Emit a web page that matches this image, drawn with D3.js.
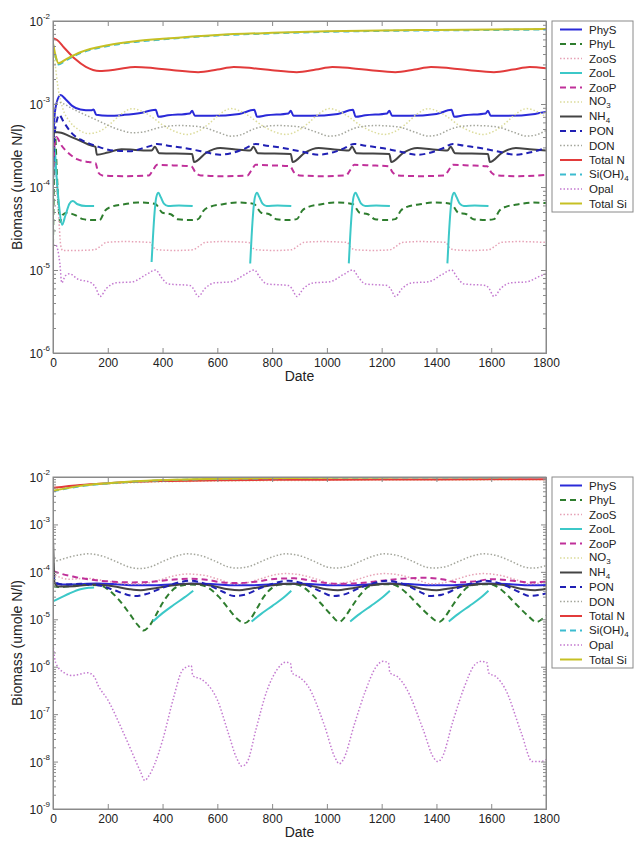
<!DOCTYPE html>
<html>
<head>
<meta charset="utf-8">
<script src="https://cdn.jsdelivr.net/npm/d3@7"></script>
<style>
  body { margin: 0; background: #fff; }
  text { font-family: Arial, "Liberation Sans", sans-serif; fill: #222; }
</style>
</head>
<body>
<div id="chart"></div>
<script>
// ---- data: [day, umole N/l], null = gap ----
var xTicks = [0, 200, 400, 600, 800, 1000, 1200, 1400, 1600, 1800];
var topExponents = [-6, -5, -4, -3, -2];
var botExponents = [-9, -8, -7, -6, -5, -4, -3, -2];

var legendMain = ["PhyS", "PhyL", "ZooS", "ZooL", "ZooP", "NO", "NH", "PON", "DON", "Total N", "Si(OH)", "Opal", "Total Si"];
var legendSub  = ["", "", "", "", "", "3", "4", "", "", "", "4", "", ""];

// top panel
var topPhyS = [[0,1.5e-4],[4,6e-4],[12,1.0e-3],[28,1.28e-3],[45,1.15e-3],[70,9.5e-4],[100,8.6e-4],[140,8.4e-4],[148,8.6e-4],[158,7.4e-4],[200,7.2e-4],[260,7.4e-4],[320,7.8e-4],[375,8.5e-4],[385,7.0e-4],[420,7.3e-4],[500,7.7e-4],[508,8.3e-4],[518,7.2e-4],[580,7.2e-4],[680,7.6e-4],[735,8.5e-4],[745,7.0e-4],[780,7.3e-4],[860,7.7e-4],[868,8.3e-4],[878,7.2e-4],[940,7.2e-4],[1040,7.6e-4],[1095,8.5e-4],[1105,7.0e-4],[1140,7.3e-4],[1220,7.7e-4],[1228,8.3e-4],[1238,7.2e-4],[1300,7.2e-4],[1400,7.6e-4],[1455,8.5e-4],[1465,7.0e-4],[1500,7.3e-4],[1580,7.7e-4],[1588,8.3e-4],[1598,7.2e-4],[1660,7.2e-4],[1760,7.6e-4],[1800,8.0e-4]];
var topPhyL = [[0,2e-5],[4,1.5e-4],[8,4e-4],[14,1.5e-4],[20,6e-5],[26,3.8e-5],[35,4.6e-5],[50,4.9e-5],[80,4.6e-5],[110,4.1e-5],[140,4.0e-5],[170,4.0e-5],[190,5.2e-5],[215,5.8e-5],[260,6.2e-5],[310,6.5e-5],[355,6.4e-5],[375,6.2e-5],[400,4.9e-5],[430,4.7e-5],[455,4.1e-5],[500,4.0e-5],[530,4.1e-5],[550,5.2e-5],[575,5.8e-5],[620,6.2e-5],[670,6.5e-5],[715,6.4e-5],[735,6.2e-5],[760,4.9e-5],[790,4.7e-5],[815,4.1e-5],[860,4.0e-5],[890,4.1e-5],[910,5.2e-5],[935,5.8e-5],[980,6.2e-5],[1030,6.5e-5],[1075,6.4e-5],[1095,6.2e-5],[1120,4.9e-5],[1150,4.7e-5],[1175,4.1e-5],[1220,4.0e-5],[1250,4.1e-5],[1270,5.2e-5],[1295,5.8e-5],[1340,6.2e-5],[1390,6.5e-5],[1435,6.4e-5],[1455,6.2e-5],[1480,4.9e-5],[1510,4.7e-5],[1535,4.1e-5],[1580,4.0e-5],[1610,4.1e-5],[1630,5.2e-5],[1655,5.8e-5],[1700,6.2e-5],[1750,6.5e-5],[1800,6.4e-5]];
var topZooS = [[0,4e-4],[10,1.5e-4],[20,5e-5],[28,2e-5],[35,1.72e-5],[80,1.72e-5],[150,1.75e-5],[175,1.95e-5],[195,2.15e-5],[260,2.2e-5],[355,2.15e-5],[365,1.9e-5],[385,1.75e-5],[450,1.72e-5],[510,1.75e-5],[535,1.95e-5],[555,2.15e-5],[620,2.2e-5],[715,2.15e-5],[725,1.9e-5],[745,1.75e-5],[810,1.72e-5],[870,1.75e-5],[895,1.95e-5],[915,2.15e-5],[980,2.2e-5],[1075,2.15e-5],[1085,1.9e-5],[1105,1.75e-5],[1170,1.72e-5],[1230,1.75e-5],[1255,1.95e-5],[1275,2.15e-5],[1340,2.2e-5],[1435,2.15e-5],[1445,1.9e-5],[1465,1.75e-5],[1530,1.72e-5],[1590,1.75e-5],[1615,1.95e-5],[1635,2.15e-5],[1700,2.2e-5],[1800,2.15e-5]];
var topZooL = [[0,1e-4],[6,3e-4],[12,1.5e-4],[22,6e-5],[33,3.5e-5],[45,4.5e-5],[60,6.3e-5],[72,6.8e-5],[90,6.2e-5],[120,5.9e-5],[150,5.9e-5],[151,null],
  [360,1.25e-5],[365,2.5e-5],[371,5e-5],[377,7.5e-5],[385,8.5e-5],[393,7.6e-5],[405,6.3e-5],[420,5.9e-5],[460,6e-5],[510,5.9e-5],[511,null],
  [720,1.2e-5],[725,2.5e-5],[731,5e-5],[737,7.5e-5],[745,8.5e-5],[753,7.6e-5],[765,6.3e-5],[780,5.9e-5],[820,6e-5],[870,5.9e-5],[871,null],
  [1080,1.2e-5],[1085,2.5e-5],[1091,5e-5],[1097,7.5e-5],[1105,8.5e-5],[1113,7.6e-5],[1125,6.3e-5],[1140,5.9e-5],[1180,6e-5],[1230,5.9e-5],[1231,null],
  [1440,1.2e-5],[1445,2.5e-5],[1451,5e-5],[1457,7.5e-5],[1465,8.5e-5],[1473,7.6e-5],[1485,6.3e-5],[1500,5.9e-5],[1540,6e-5],[1590,5.9e-5]];
var topZooP = [[0,1e-4],[5,3e-4],[12,4e-4],[30,3.2e-4],[60,2.5e-4],[90,2.15e-4],[130,2.0e-4],[155,1.95e-4],[165,1.5e-4],[180,1.38e-4],[260,1.35e-4],[350,1.38e-4],[365,1.6e-4],[380,1.85e-4],[440,1.82e-4],[505,1.78e-4],[520,1.5e-4],[540,1.38e-4],[620,1.35e-4],[710,1.38e-4],[725,1.6e-4],[740,1.85e-4],[800,1.82e-4],[865,1.78e-4],[880,1.5e-4],[900,1.38e-4],[980,1.35e-4],[1070,1.38e-4],[1085,1.6e-4],[1100,1.85e-4],[1160,1.82e-4],[1225,1.78e-4],[1240,1.5e-4],[1260,1.38e-4],[1340,1.35e-4],[1430,1.38e-4],[1445,1.6e-4],[1460,1.85e-4],[1520,1.82e-4],[1585,1.78e-4],[1600,1.5e-4],[1620,1.38e-4],[1700,1.35e-4],[1800,1.4e-4]];
var topNO3 = [[0,5e-3],[8,3e-3],[18,1.6e-3],[35,9e-4],[60,6.2e-4],[90,5e-4],[130,4.4e-4],[170,4.7e-4],[210,5.8e-4],[250,7.6e-4],[290,8.8e-4],[320,8.3e-4],[360,7e-4],[400,5.6e-4],[450,4.6e-4],[490,4.3e-4],[530,4.7e-4],[570,5.8e-4],[610,7.6e-4],[650,8.8e-4],[680,8.3e-4],[720,7e-4],[760,5.6e-4],[810,4.6e-4],[850,4.3e-4],[890,4.7e-4],[930,5.8e-4],[970,7.6e-4],[1010,8.8e-4],[1040,8.3e-4],[1080,7e-4],[1120,5.6e-4],[1170,4.6e-4],[1210,4.3e-4],[1250,4.7e-4],[1290,5.8e-4],[1330,7.6e-4],[1370,8.8e-4],[1400,8.3e-4],[1440,7e-4],[1480,5.6e-4],[1530,4.6e-4],[1570,4.3e-4],[1610,4.7e-4],[1650,5.8e-4],[1690,7.6e-4],[1730,8.8e-4],[1760,8.3e-4],[1800,7e-4]];
var topNH4 = [[0,3e-4],[4,4.6e-4],[30,4.5e-4],[60,4.1e-4],[100,3.6e-4],[140,3.15e-4],[155,3.05e-4],[160,2.45e-4],[200,2.6e-4],[250,2.85e-4],[300,2.8e-4],[360,2.75e-4],[372,3.05e-4],[388,2.55e-4],[508,2.5e-4],[515,2.0e-4],[560,2.6e-4],[610,2.95e-4],[660,2.85e-4],[720,2.75e-4],[732,3.05e-4],[748,2.55e-4],[868,2.5e-4],[875,2e-4],[920,2.6e-4],[970,2.95e-4],[1020,2.85e-4],[1080,2.75e-4],[1092,3.05e-4],[1108,2.55e-4],[1228,2.5e-4],[1235,2e-4],[1280,2.6e-4],[1330,2.95e-4],[1380,2.85e-4],[1440,2.75e-4],[1452,3.05e-4],[1468,2.55e-4],[1588,2.5e-4],[1595,2e-4],[1640,2.6e-4],[1690,2.95e-4],[1740,2.85e-4],[1800,2.75e-4]];
var topPON = [[0,1.5e-4],[5,4e-4],[15,6.5e-4],[22,7.4e-4],[40,6e-4],[70,4.4e-4],[110,3.6e-4],[160,3.1e-4],[220,2.75e-4],[280,2.7e-4],[330,2.95e-4],[360,3.15e-4],[380,3.3e-4],[420,3.15e-4],[480,2.95e-4],[540,2.7e-4],[610,2.45e-4],[660,2.6e-4],[700,2.9e-4],[740,3.3e-4],[780,3.15e-4],[840,2.95e-4],[900,2.7e-4],[970,2.45e-4],[1020,2.6e-4],[1060,2.9e-4],[1100,3.3e-4],[1140,3.15e-4],[1200,2.95e-4],[1260,2.7e-4],[1330,2.45e-4],[1380,2.6e-4],[1420,2.9e-4],[1460,3.3e-4],[1500,3.15e-4],[1560,2.95e-4],[1620,2.7e-4],[1690,2.45e-4],[1740,2.6e-4],[1800,2.95e-4]];
var topDON = [[0,8e-4],[5,1e-3],[20,1.05e-3],[40,1e-3],[70,8.8e-4],[110,7.6e-4],[160,6.4e-4],[220,5.2e-4],[260,4.7e-4],[290,4.5e-4],[330,4.6e-4],[360,4.9e-4],[400,5.3e-4],[460,5.5e-4],[540,5.3e-4],[600,4.6e-4],[650,4.1e-4],[690,4.3e-4],[720,4.8e-4],[760,5.3e-4],[820,5.5e-4],[900,5.3e-4],[960,4.6e-4],[1010,4.1e-4],[1050,4.3e-4],[1080,4.8e-4],[1120,5.3e-4],[1180,5.5e-4],[1260,5.3e-4],[1320,4.6e-4],[1370,4.1e-4],[1410,4.3e-4],[1440,4.8e-4],[1480,5.3e-4],[1540,5.5e-4],[1620,5.3e-4],[1680,4.6e-4],[1730,4.1e-4],[1770,4.3e-4],[1800,4.8e-4]];
var topTotalN = [[0,6.2e-3],[15,5.9e-3],[40,4.8e-3],[80,3.5e-3],[120,2.8e-3],[170,2.5e-3],[230,2.6e-3],[300,2.8e-3],[370,2.7e-3],[440,2.55e-3],[530,2.42e-3],[600,2.6e-3],[660,2.8e-3],[730,2.7e-3],[800,2.55e-3],[890,2.42e-3],[960,2.6e-3],[1020,2.8e-3],[1090,2.7e-3],[1160,2.55e-3],[1250,2.42e-3],[1320,2.6e-3],[1380,2.8e-3],[1450,2.7e-3],[1520,2.55e-3],[1610,2.42e-3],[1680,2.6e-3],[1740,2.8e-3],[1800,2.7e-3]];
var topSiOH4 = [[0,5.2e-3],[8,3.9e-3],[20,3e-3],[50,3.4e-3],[100,4.1e-3],[200,5e-3],[300,5.6e-3],[400,6e-3],[600,6.7e-3],[800,7.1e-3],[1000,7.4e-3],[1200,7.6e-3],[1400,7.7e-3],[1600,7.8e-3],[1800,7.9e-3]];
var topOpal = [[0,2e-5],[10,2e-5],[25,1.2e-5],[32,7e-6],[45,8.5e-6],[60,9e-6],[90,7.8e-6],[140,7e-6],[155,6.2e-6],[172,4.8e-6],[195,6e-6],[230,7e-6],[290,7.2e-6],[340,8.8e-6],[375,1.0e-5],[395,8.2e-6],[420,6.8e-6],[500,6.5e-6],[512,6e-6],[530,4.8e-6],[555,6e-6],[590,7e-6],[650,7.2e-6],[700,8.8e-6],[735,1.0e-5],[755,8.2e-6],[780,6.8e-6],[860,6.5e-6],[872,6e-6],[890,4.8e-6],[915,6e-6],[950,7e-6],[1010,7.2e-6],[1060,8.8e-6],[1095,1.0e-5],[1115,8.2e-6],[1140,6.8e-6],[1220,6.5e-6],[1232,6e-6],[1250,4.8e-6],[1275,6e-6],[1310,7e-6],[1370,7.2e-6],[1420,8.8e-6],[1455,1.0e-5],[1475,8.2e-6],[1500,6.8e-6],[1580,6.5e-6],[1592,6e-6],[1610,4.8e-6],[1635,6e-6],[1670,7e-6],[1730,7.2e-6],[1780,8.5e-6],[1800,9e-6]];
var topTotalSi = [[0,5.4e-3],[8,4e-3],[20,3.1e-3],[50,3.5e-3],[100,4.2e-3],[200,5.1e-3],[300,5.7e-3],[400,6.1e-3],[600,6.8e-3],[800,7.2e-3],[1000,7.5e-3],[1200,7.7e-3],[1400,7.8e-3],[1600,7.9e-3],[1800,8e-3]];

// bottom panel
var botPhyS = [[0,1e-4],[4,6e-5],[30,5.4e-5],[100,5.5e-5],[160,5.7e-5],[230,5.5e-5],[300,5.2e-5],[360,5.2e-5],[440,5.5e-5],[520,5.7e-5],[590,5.5e-5],[660,5.2e-5],[720,5.2e-5],[800,5.5e-5],[880,5.7e-5],[950,5.5e-5],[1020,5.2e-5],[1080,5.2e-5],[1160,5.5e-5],[1240,5.7e-5],[1310,5.5e-5],[1380,5.2e-5],[1440,5.2e-5],[1520,5.5e-5],[1600,5.7e-5],[1670,5.5e-5],[1740,5.2e-5],[1800,5.3e-5]];
var botPhyL = [[0,5e-5],[20,4.8e-5],[60,5e-5],[120,5.3e-5],[170,5.2e-5],[200,4.3e-5],[240,2.6e-5],[280,1.3e-5],[310,7.5e-6],[330,5.8e-6],[350,7e-6],[375,1.2e-5],[400,2.2e-5],[430,3.8e-5],[460,5e-5],[500,5.4e-5],[540,5.3e-5],[570,4.5e-5],[605,3e-5],[640,1.7e-5],[670,1.05e-5],[700,8.3e-6],[720,1e-5],[745,1.7e-5],[770,3e-5],[800,4.6e-5],[830,5.4e-5],[880,5.5e-5],[905,5.1e-5],[940,3.6e-5],[980,2.1e-5],[1015,1.25e-5],[1045,8.8e-6],[1065,1.1e-5],[1090,1.8e-5],[1120,3.2e-5],[1150,4.8e-5],[1180,5.4e-5],[1230,5.5e-5],[1255,5.1e-5],[1290,3.6e-5],[1330,2.1e-5],[1370,1.25e-5],[1410,8.8e-6],[1430,1.1e-5],[1455,1.8e-5],[1485,3.2e-5],[1515,4.8e-5],[1545,5.4e-5],[1590,5.5e-5],[1615,5.1e-5],[1650,3.6e-5],[1690,2.1e-5],[1730,1.25e-5],[1766,8.8e-6],[1785,1e-5],[1800,1.2e-5]];
var botZooS = [[0,1.2e-4],[10,8.5e-5],[60,7e-5],[120,7.3e-5],[200,6.3e-5],[270,5.6e-5],[320,5.6e-5],[380,6.5e-5],[440,8.2e-5],[490,9e-5],[550,8.5e-5],[610,6.8e-5],[660,5.6e-5],[700,5.8e-5],[760,7.2e-5],[810,8.7e-5],[850,9.2e-5],[910,8.5e-5],[970,6.8e-5],[1020,5.6e-5],[1060,5.8e-5],[1120,7.2e-5],[1170,8.7e-5],[1210,9.2e-5],[1270,8.5e-5],[1330,6.8e-5],[1380,5.6e-5],[1420,5.8e-5],[1480,7.2e-5],[1530,8.7e-5],[1570,9.2e-5],[1630,8.5e-5],[1690,6.8e-5],[1740,5.6e-5],[1800,6e-5]];
var botZooL = [[0,2.4e-5],[30,2.9e-5],[60,3.5e-5],[100,4.3e-5],[130,4.6e-5],[150,4.7e-5],[151,null],
  [365,9e-6],[400,1.35e-5],[440,2e-5],[480,2.9e-5],[512,4e-5],[513,null],
  [725,9e-6],[760,1.3e-5],[800,1.9e-5],[840,2.8e-5],[870,4e-5],[871,null],
  [1085,9e-6],[1120,1.3e-5],[1160,1.9e-5],[1200,2.8e-5],[1230,4e-5],[1231,null],
  [1445,9e-6],[1480,1.3e-5],[1520,1.9e-5],[1560,2.8e-5],[1590,4e-5]];
var botZooP = [[0,1.05e-4],[20,9.5e-5],[80,7.8e-5],[150,6.7e-5],[220,6.2e-5],[290,6e-5],[360,6.2e-5],[430,6.8e-5],[500,7.2e-5],[560,6.8e-5],[620,6e-5],[680,5.8e-5],[740,6.2e-5],[820,7.2e-5],[880,7.3e-5],[940,6.6e-5],[1000,5.8e-5],[1060,5.6e-5],[1120,5.8e-5],[1200,6.5e-5],[1280,7.2e-5],[1360,7.5e-5],[1420,7e-5],[1480,6e-5],[1540,6.3e-5],[1600,7e-5],[1680,6.5e-5],[1740,6e-5],[1800,6.2e-5]];
var botNO3 = [[0,5.7e-3],[100,6.6e-3],[200,7.2e-3],[300,7.6e-3],[400,7.9e-3],[600,8.2e-3],[800,8.4e-3],[1000,8.5e-3],[1200,8.6e-3],[1400,8.6e-3],[1600,8.7e-3],[1800,8.7e-3]];
var botNH4 = [[0,5e-4],[2,2e-4],[5,6e-5],[20,4.9e-5],[80,5e-5],[150,5.4e-5],[220,5e-5],[280,4.3e-5],[320,4.1e-5],[360,4.4e-5],[440,5.2e-5],[510,5.6e-5],[580,5.1e-5],[640,4.3e-5],[680,4.1e-5],[720,4.4e-5],[800,5.2e-5],[870,5.6e-5],[940,5.1e-5],[1000,4.3e-5],[1040,4.1e-5],[1080,4.4e-5],[1160,5.2e-5],[1230,5.6e-5],[1300,5.1e-5],[1360,4.3e-5],[1400,4.1e-5],[1440,4.4e-5],[1520,5.2e-5],[1590,5.6e-5],[1660,5.1e-5],[1720,4.3e-5],[1760,4.1e-5],[1800,4.4e-5]];
var botPON = [[0,9e-5],[8,6e-5],[40,5.4e-5],[100,5.6e-5],[160,5.3e-5],[220,4.2e-5],[270,3.3e-5],[300,3.1e-5],[340,3.4e-5],[400,4.6e-5],[460,6e-5],[500,6.5e-5],[560,5.5e-5],[620,3.8e-5],[660,3.1e-5],[700,3.3e-5],[760,4.6e-5],[820,6e-5],[860,6.5e-5],[920,5.5e-5],[980,3.8e-5],[1020,3.1e-5],[1060,3.3e-5],[1120,4.6e-5],[1180,6e-5],[1220,6.5e-5],[1280,5.5e-5],[1340,3.8e-5],[1375,3.1e-5],[1420,3.3e-5],[1480,4.6e-5],[1540,6e-5],[1580,6.5e-5],[1640,5.5e-5],[1700,3.8e-5],[1740,3.1e-5],[1800,3.5e-5]];
var botDON = [[0,1.6e-4],[40,1.9e-4],[90,2.25e-4],[130,2.4e-4],[180,2.15e-4],[230,1.65e-4],[280,1.25e-4],[315,1.17e-4],[360,1.3e-4],[400,1.65e-4],[450,2.15e-4],[490,2.4e-4],[540,2.2e-4],[590,1.7e-4],[640,1.27e-4],[670,1.2e-4],[720,1.32e-4],[760,1.65e-4],[810,2.15e-4],[850,2.4e-4],[900,2.2e-4],[950,1.7e-4],[1000,1.27e-4],[1030,1.2e-4],[1080,1.32e-4],[1120,1.65e-4],[1170,2.15e-4],[1210,2.4e-4],[1260,2.2e-4],[1310,1.7e-4],[1360,1.27e-4],[1390,1.2e-4],[1440,1.32e-4],[1480,1.65e-4],[1530,2.15e-4],[1570,2.4e-4],[1620,2.2e-4],[1670,1.7e-4],[1720,1.27e-4],[1750,1.2e-4],[1800,1.35e-4]];
var botTotalN = [[0,5.9e-3],[100,6.8e-3],[200,7.4e-3],[300,7.9e-3],[400,8.2e-3],[600,8.5e-3],[800,8.7e-3],[1000,8.8e-3],[1200,8.9e-3],[1400,8.9e-3],[1600,9e-3],[1800,9e-3]];
var botSiOH4 = [[0,5e-3],[100,6.4e-3],[200,7.3e-3],[300,8e-3],[400,8.5e-3],[600,9.1e-3],[800,9.4e-3],[1000,9.6e-3],[1200,9.7e-3],[1400,9.8e-3],[1600,9.8e-3],[1800,9.9e-3]];
var botOpal = [[0,3e-6],[10,1.2e-6],[40,7.5e-7],[70,6.5e-7],[100,7e-7],[125,7.5e-7],[150,6.2e-7],[165,4e-7],[200,2e-7],[250,5e-8],[290,1.5e-8],[320,6e-9],[335,4e-9],[350,5e-9],[370,8.5e-9],[400,2.8e-8],[440,2.2e-7],[470,8e-7],[490,1.0e-6],[505,1.05e-6],[510,6.5e-7],[540,5.5e-7],[560,4.5e-7],[600,2e-7],[640,4e-8],[670,1.2e-8],[690,8e-9],[710,1e-8],[740,4.5e-8],[780,3e-7],[820,9e-7],[850,1.25e-6],[868,1.15e-6],[872,7.5e-7],[900,6e-7],[930,4e-7],[990,6e-8],[1030,1.2e-8],[1045,9e-9],[1060,1.1e-8],[1100,6e-8],[1140,3e-7],[1180,1e-6],[1205,1.3e-6],[1225,1.2e-6],[1230,7.5e-7],[1260,6e-7],[1290,3.5e-7],[1350,5e-8],[1390,1.2e-8],[1405,1e-8],[1420,1.2e-8],[1460,7e-8],[1500,3.5e-7],[1540,1.1e-6],[1565,1.3e-6],[1585,1.2e-6],[1590,7.5e-7],[1620,6e-7],[1650,3.5e-7],[1710,4e-8],[1750,1e-8],[1780,1e-8],[1800,1.1e-8]];
var botTotalSi = [[0,5.1e-3],[100,6.5e-3],[200,7.4e-3],[300,8.1e-3],[400,8.6e-3],[600,9.2e-3],[800,9.5e-3],[1000,9.7e-3],[1200,9.8e-3],[1400,9.9e-3],[1600,9.9e-3],[1800,1e-2]];

// ---- styles (MATLAB-ish) ----
var colors = ["#2a2ad8", "#2e7d2e", "#e6a2b6", "#3cc8c8", "#c0309a", "#dcdc9c", "#444444", "#2020b4", "#a4a69c", "#e23b3b", "#3cbcd0", "#c47ad0", "#c6c024"];
var dashes = ["none", "6,4", "1.5,2", "none", "6,4", "1.5,2", "none", "6,4", "1.5,2", "none", "6,4", "1.5,2", "none"];
var widths = [2, 2, 1.5, 2, 2, 1.5, 2, 2, 1.5, 2, 2, 1.5, 2];

var W = 637, H = 844;
var left = 53, right = 546;

var svg = d3.select("#chart").append("svg")
  .attr("width", W)
  .attr("height", H);

var panels = [
  {id: "p1", top: 21, bottom: 353, exps: topExponents,
   series: [topPhyS, topPhyL, topZooS, topZooL, topZooP, topNO3, topNH4, topPON, topDON, topTotalN, topSiOH4, topOpal, topTotalSi]},
  {id: "p2", top: 477, bottom: 809, exps: botExponents,
   series: [botPhyS, botPhyL, botZooS, botZooL, botZooP, botNO3, botNH4, botPON, botDON, botTotalN, botSiOH4, botOpal, botTotalSi]}
];

panels.forEach(function(p) {
  var x = d3.scaleLinear().domain([0, 1800]).range([left, right]);
  var y = d3.scaleLog()
    .domain([Math.pow(10, p.exps[0]), Math.pow(10, p.exps[p.exps.length - 1])])
    .range([p.bottom, p.top]);

  var g = svg.append("g");

  g.append("clipPath").attr("id", "clip-" + p.id)
    .append("rect")
      .attr("x", left).attr("y", p.top)
      .attr("width", right - left).attr("height", p.bottom - p.top);

  var line = d3.line()
    .defined(function(d) { return d[1] != null; })
    .x(function(d) { return x(d[0]); })
    .y(function(d) { return y(d[1]); })
    .curve(d3.curveMonotoneX);

  var lines = g.append("g").attr("clip-path", "url(#clip-" + p.id + ")");
  p.series.forEach(function(data, i) {
    lines.append("path")
      .datum(data)
      .attr("fill", "none")
      .attr("stroke", colors[i])
      .attr("stroke-width", widths[i])
      .attr("stroke-dasharray", dashes[i])
      .attr("stroke-linejoin", "round")
      .attr("d", line);
  });

  // minor log ticks
  var minors = [];
  for (var k = 0; k < p.exps.length - 1; k++) {
    for (var m = 2; m <= 9; m++) minors.push(m * Math.pow(10, p.exps[k]));
  }
  var majors = p.exps.map(function(e) { return Math.pow(10, e); });

  function styleAxis(sel) {
    sel.selectAll("path").attr("stroke", "#8a8a8a");
    sel.selectAll("line").attr("stroke", "#8a8a8a");
  }

  g.append("g").attr("transform", "translate(" + left + ",0)")
    .call(d3.axisLeft(y).tickValues(minors).tickSize(-3).tickFormat(""))
    .call(styleAxis);
  g.append("g").attr("transform", "translate(" + right + ",0)")
    .call(d3.axisRight(y).tickValues(minors).tickSize(-3).tickFormat(""))
    .call(styleAxis);
  g.append("g").attr("transform", "translate(" + left + ",0)")
    .call(d3.axisLeft(y).tickValues(majors).tickSize(-5).tickFormat(""))
    .call(styleAxis);
  g.append("g").attr("transform", "translate(" + right + ",0)")
    .call(d3.axisRight(y).tickValues(majors).tickSize(-5).tickFormat(""))
    .call(styleAxis);

  // x axes, ticks pointing inward
  var xb = g.append("g").attr("transform", "translate(0," + p.bottom + ")")
    .call(d3.axisBottom(x).tickValues(xTicks).tickSizeInner(-5).tickSizeOuter(0)
      .tickPadding(5).tickFormat(d3.format("d")))
    .call(styleAxis);
  xb.selectAll("text").attr("font-size", 12).attr("fill", "#222")
    .attr("font-family", "Arial, 'Liberation Sans', sans-serif");
  g.append("g").attr("transform", "translate(0," + p.top + ")")
    .call(d3.axisTop(x).tickValues(xTicks).tickSizeInner(-5).tickSizeOuter(0).tickFormat(""))
    .call(styleAxis);

  // frame
  g.append("rect")
    .attr("x", left).attr("y", p.top)
    .attr("width", right - left).attr("height", p.bottom - p.top)
    .attr("fill", "none").attr("stroke", "#8a8a8a").attr("stroke-width", 1);

  // y tick labels 10^n
  p.exps.forEach(function(e) {
    var t = g.append("text")
      .attr("x", left - 3)
      .attr("y", y(Math.pow(10, e)) + 5)
      .attr("text-anchor", "end")
      .attr("font-size", 12)
      .text("10");
    t.append("tspan").attr("dy", -7).attr("font-size", 8).text(e);
  });

  // axis titles
  g.append("text")
    .attr("x", (left + right) / 2)
    .attr("y", p.bottom + 28)
    .attr("text-anchor", "middle")
    .attr("font-size", 14)
    .text("Date");
  g.append("text")
    .attr("transform", "translate(22," + (p.top + p.bottom) / 2 + ") rotate(-90)")
    .attr("text-anchor", "middle")
    .attr("font-size", 14)
    .text("Biomass (umole N/l)");

  // legend
  var lg = g.append("g").attr("transform", "translate(552," + p.top + ")");
  lg.append("rect")
    .attr("width", 81).attr("height", 191)
    .attr("fill", "#fff").attr("stroke", "#8a8a8a");
  legendMain.forEach(function(name, i) {
    var cy = 8.5 + i * 14.5;
    lg.append("line")
      .attr("x1", 8).attr("x2", 30).attr("y1", cy).attr("y2", cy)
      .attr("stroke", colors[i])
      .attr("stroke-width", widths[i])
      .attr("stroke-dasharray", dashes[i]);
    var hasSub = legendSub[i] !== "";
    var t = lg.append("text")
      .attr("x", 37).attr("y", cy + (hasSub ? 3 : 4))
      .attr("font-size", 11.5)
      .text(name);
    if (hasSub) {
      t.append("tspan").attr("dy", 3).attr("font-size", 8).text(legendSub[i]);
    }
  });
});
</script>
</body>
</html>
